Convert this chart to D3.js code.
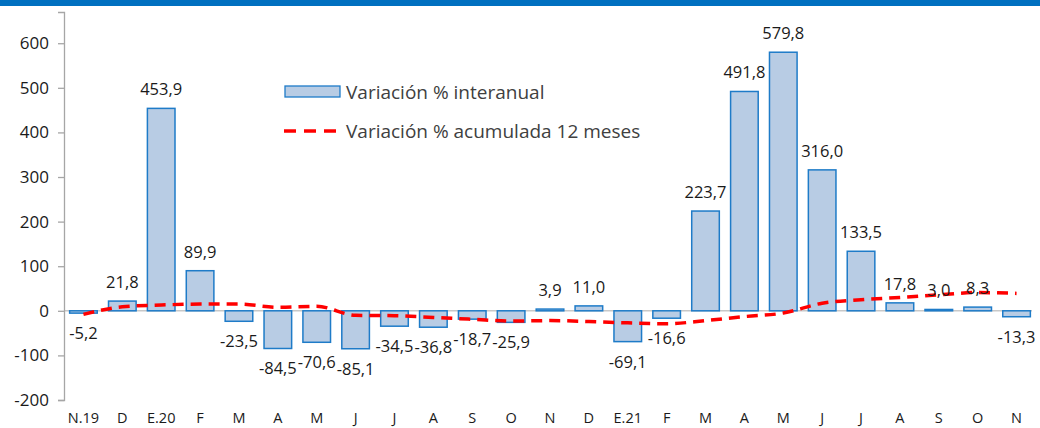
<!DOCTYPE html>
<html><head><meta charset="utf-8">
<script src="https://cdn.jsdelivr.net/npm/d3@7"></script>
<style>
html,body{margin:0;padding:0;background:#fff;}
svg{display:block;font-family:"Open Sans","Noto Sans",sans-serif;}
</style></head>
<body>
<svg id="chart" width="1040" height="428"></svg>
<script>
const categories = ["N.19","D","E.20","F","M","A","M","J","J","A","S","O","N","D","E.21","F","M","A","M","J","J","A","S","O","N"];
const interanual = [-5.2,21.8,453.9,89.9,-23.5,-84.5,-70.6,-85.1,-34.5,-36.8,-18.7,-25.9,3.9,11.0,-69.1,-16.6,223.7,491.8,579.8,316.0,133.5,17.8,3.0,8.3,-13.3];
const acumulada = [-8,9,13,15,15,8,10,-10,-11,-15,-19,-23,-22,-24,-27,-29,-22,-13,-5,17,25,30,36,41,39];
const yTicks = [-200,-100,0,100,200,300,400,500,600];
const seriesNames = ["Variación % interanual","Variación % acumulada 12 meses"];

const svg = d3.select("#chart");
const W = 1040, H = 428;

// top band
svg.append("rect").attr("x",0).attr("y",0).attr("width",W).attr("height",6).attr("fill","#0070c0");

const x = d3.scaleBand().domain(d3.range(categories.length)).range([64,1036]).paddingInner(0.29).paddingOuter(0.145);
const y = d3.scaleLinear().domain([-200,670]).range([400,12]);

// zero line
svg.append("line").attr("x1",64).attr("x2",1032).attr("y1",y(0)).attr("y2",y(0))
  .attr("stroke","#c8c8c8").attr("stroke-width",1.5);

// y axis
const yAxis = d3.axisLeft(y).tickValues(yTicks).tickSize(6).tickPadding(9).tickFormat(d=>d);
const ga = svg.append("g").attr("transform","translate(64,0)").call(yAxis);
ga.select(".domain").attr("stroke","#a6a6a6").attr("stroke-width",1.3);
ga.selectAll(".tick line").attr("stroke","#a6a6a6").attr("stroke-width",1.3);
ga.selectAll(".tick text").attr("font-size",17).attr("fill","#1a1a1a").attr("font-family","Open Sans");

// bars
svg.append("g").selectAll("rect").data(interanual).join("rect")
  .attr("x",(d,i)=>x(i)).attr("width",x.bandwidth())
  .attr("y",d=>y(Math.max(0,d))).attr("height",d=>Math.abs(y(d)-y(0)))
  .attr("fill","#b8cce4").attr("stroke","#1e7bc8").attr("stroke-width",1.5);

// line
const line = d3.line().x((d,i)=>x(i)+x.bandwidth()/2).y(d=>y(d)).curve(d3.curveMonotoneX);
svg.append("path").datum(acumulada).attr("d",line).attr("fill","none")
  .attr("stroke","#ff0000").attr("stroke-width",3.5).attr("stroke-dasharray","11,7");

// data labels
const fmt = v => v.toFixed(1).replace(".",",");
svg.append("g").selectAll("text").data(interanual).join("text")
  .attr("x",(d,i)=>x(i)+x.bandwidth()/2)
  .attr("y",d=> d>=0 ? y(d)-13 : y(d)+26)
  .attr("text-anchor","middle").attr("font-size",16.5).attr("fill","#1a1a1a")
  .text(fmt);

// x labels
svg.append("g").selectAll("text").data(categories).join("text")
  .attr("x",(d,i)=>x(i)+x.bandwidth()/2).attr("y",423)
  .attr("text-anchor","middle").attr("font-size",14.5).attr("fill","#1a1a1a")
  .text(d=>d);

// legend
const lg = svg.append("g");
lg.append("rect").attr("x",285).attr("y",86).attr("width",55).attr("height",11)
  .attr("fill","#b8cce4").attr("stroke","#1e7bc8").attr("stroke-width",1.3);
lg.append("text").attr("x",346).attr("y",99).attr("font-size",19).attr("fill","#404040").text(seriesNames[0]);
lg.append("line").attr("x1",284).attr("x2",340).attr("y1",131).attr("y2",131)
  .attr("stroke","#ff0000").attr("stroke-width",3.5).attr("stroke-dasharray","12,8");
lg.append("text").attr("x",346).attr("y",138).attr("font-size",19).attr("fill","#404040").text(seriesNames[1]);
</script>
</body></html>
